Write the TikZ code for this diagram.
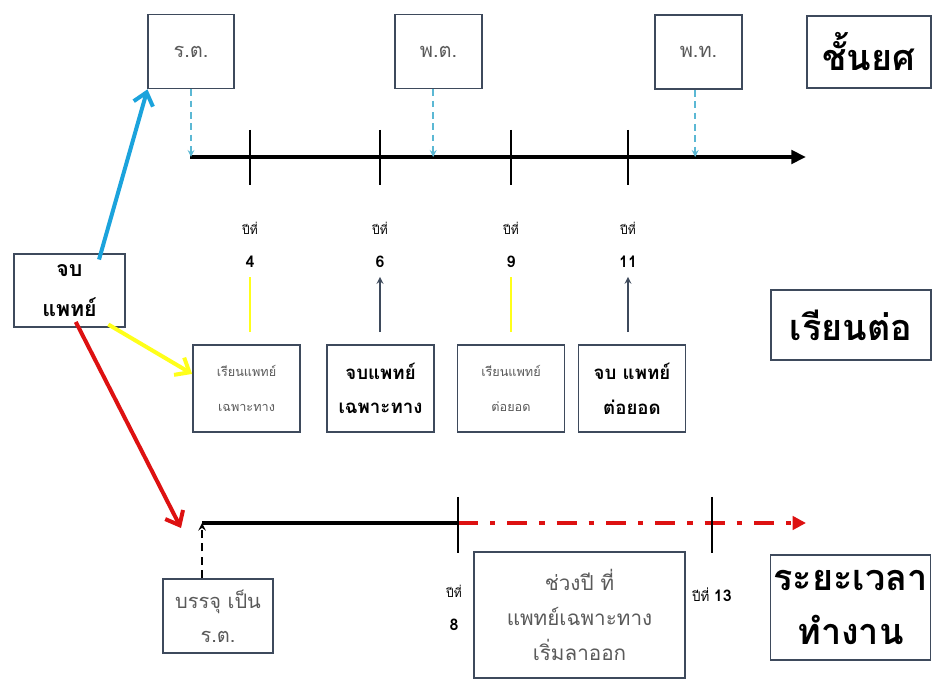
\documentclass[tikz,border=0pt]{standalone}
\usepackage{fontspec}
\newfontfamily\thaifont[Script=Thai]{Loma}
\usetikzlibrary{arrows.meta, positioning, calc}

\definecolor{boxline}{HTML}{3E4A5C}
\definecolor{textgray}{HTML}{5A5A5A}
\definecolor{rankblue}{HTML}{5BB8D4}
\definecolor{gradblue}{HTML}{1BA3DC}
\definecolor{gradyellow}{HTML}{FFFF1A}
\definecolor{gradred}{HTML}{DD1111}

\begin{document}
\begin{tikzpicture}[x=0.75pt, y=-0.75pt, >=stealth, thick,
      box/.style={draw=boxline, line width=1.3pt, fill=white, align=center, inner sep=2pt},
      rank_box/.style={box, minimum width=64pt, minimum height=55.5pt, text=textgray, font=\thaifont\fontsize{15}{17}\selectfont},
      title_box/.style={box, minimum width=120pt, font=\thaifont\bfseries\fontsize{27}{41}\selectfont},
      study_box/.style={box, minimum width=80.25pt, minimum height=65.25pt},
      faint_text/.style={text=textgray, font=\thaifont\fontsize{9.5}{26}\selectfont},
      bold_text/.style={font=\thaifont\bfseries\fontsize{14}{26}\selectfont},
      year_text/.style={align=center, font=\thaifont\fontsize{9}{25}\selectfont},
      axis_tick/.style={line width=1.3pt},
      rank_link/.style={->, rankblue, line width=1.3pt, dash pattern=on 5pt off 3.5pt},
      grad_arrow/.style={-{Straight Barb[length=9pt, width=15pt]}, line width=3pt, shorten <=-5pt},
      year_arrow/.style={->, line width=1.3pt, shorten <=9pt, shorten >=3pt}
  ]

  \useasboundingbox (0,0) rectangle (932,680);

  % Define coordinates for the two time lines
  \coordinate (top_start) at (190,157);
  \coordinate (top_end) at (806,157);
  \coordinate (work_start) at (202,523);
  \coordinate (work_mid) at (458,523);
  \coordinate (work_end) at (806,523);
  \coordinate (red_end) at (181,528);

  % Rank boxes
  \node[rank_box] (rt) at (191,51.5) {ร.ต.};
  \node[rank_box, minimum width=65.25pt] (pt) at (438.5,51.5) {พ.ต.};
  \node[rank_box, minimum width=65.25pt] (pth) at (698.5,52) {พ.ท.};

  % Row titles
  \node[title_box, minimum width=93pt, minimum height=54pt] (rank_title) at (869,52) {ชั้นยศ};
  \node[title_box, minimum height=52.5pt] (study_title) at (851,325) {เรียนต่อ};
  \node[title_box, minimum height=78.75pt] (work_title) at (850.5,607.5) {ระยะเวลา\\ทำงาน};

  % Start box
  \node[box, minimum width=83.25pt, minimum height=54.75pt, font=\thaifont\bfseries\fontsize{16}{30}\selectfont] (grad) at (69.5,290.5) {จบ\\แพทย์};

  % Study boxes
  \node[study_box, faint_text] (spec) at (246.5,388.5) {เรียนแพทย์\\เฉพาะทาง};
  \node[study_box, bold_text] (spec_done) at (380.5,388.5) {จบแพทย์\\เฉพาะทาง};
  \node[study_box, faint_text] (sub) at (511,388.5) {เรียนแพทย์\\ต่อยอด};
  \node[study_box, bold_text] (sub_done) at (632,388.5) {จบ แพทย์\\ต่อยอด};

  % Work boxes
  \node[box, minimum width=82.5pt, minimum height=55.5pt, text=textgray, font=\thaifont\fontsize{15}{25.5}\selectfont] (enter) at (218,616) {บรรจุ เป็น\\ร.ต.};
  \node[box, minimum width=158.25pt, minimum height=94.5pt, text=textgray, font=\thaifont\fontsize{15.5}{26}\selectfont] (quit) at (579.5,615) {ช่วงปี ที่\\แพทย์เฉพาะทาง\\เริ่มลาออก};

  % Draw the rank time line
  \draw[line width=3pt, -{Triangle[length=11pt, width=10pt]}] (top_start) -- (top_end);
  \foreach \x in {250,380,511,628}
    \draw[axis_tick] (\x,130) -- (\x,185);

  % Year labels
  \node[year_text] (year4) at (250,245) {ปีที่\\{\bfseries\fontsize{12}{12}\selectfont 4}};
  \node[year_text] (year6) at (380,245) {ปีที่\\{\bfseries\fontsize{12}{12}\selectfont 6}};
  \node[year_text] (year9) at (511,245) {ปีที่\\{\bfseries\fontsize{12}{12}\selectfont 9}};
  \node[year_text] (year11) at (628,245) {ปีที่\\{\bfseries\fontsize{12}{12}\selectfont 11}};

  % Dashed links from the ranks to the time line
  \draw[rank_link] (rt.south) -- (rt.south |- top_start);
  \draw[rank_link] ([xshift=-4pt]pt.south) -- ([xshift=-4pt]pt.south |- top_start);
  \draw[rank_link] ([xshift=-2.5pt]pth.south) -- ([xshift=-2.5pt]pth.south |- top_start);

  % Study arrows
  \draw[year_arrow, gradyellow, -] (year4 |- spec.north) -- (year4.south);
  \draw[year_arrow, boxline] (year6 |- spec_done.north) -- (year6.south);
  \draw[year_arrow, gradyellow, -] (year9 |- sub.north) -- (year9.south);
  \draw[year_arrow, boxline] (year11 |- sub_done.north) -- (year11.south);

  % Arrows out of the start box
  \draw[grad_arrow, gradblue] (grad.50) -- (rt.south west);
  \draw[grad_arrow, gradyellow] (grad.-40) -- (spec.165);
  \draw[grad_arrow, gradred] (grad.-76) -- (red_end);

  % Draw the work time line
  \draw[line width=3pt] (work_start) -- (work_mid);
  \draw[gradred, line width=3pt, dash pattern=on 15pt off 9pt on 4pt off 9pt, -{Triangle[length=10pt, width=10pt]}] (work_mid) -- (work_end);
  \draw[axis_tick] (458,497) -- (458,553);
  \draw[axis_tick] (712,497) -- (712,553);
  \draw[->, line width=1.5pt, dash pattern=on 6pt off 4pt] (work_start |- enter.north) -- (work_start);

  % Year labels on the work line
  \node[year_text] (year8) at (454,608) {ปีที่\\{\bfseries\fontsize{12}{12}\selectfont 8}};
  \node[font=\thaifont\fontsize{10}{12}\selectfont] (year13) at (712,595) {ปีที่ {\bfseries\fontsize{12}{12}\selectfont 13}};

\end{tikzpicture}
\end{document}
